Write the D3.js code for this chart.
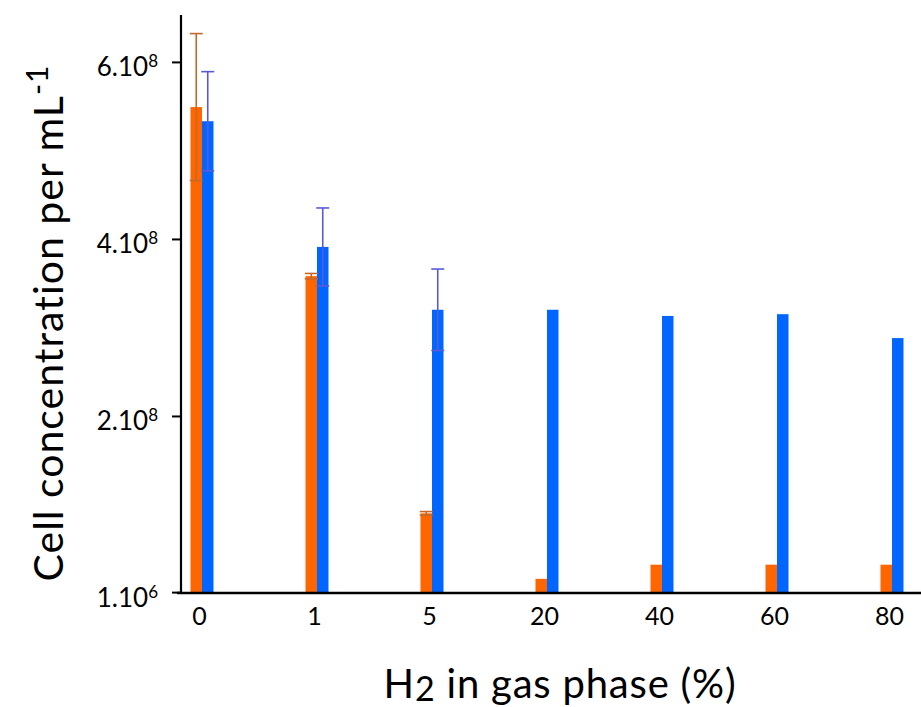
<!DOCTYPE html>
<html><head><meta charset="utf-8">
<script src="https://cdn.jsdelivr.net/npm/d3@7"></script>
<style>body{margin:0;background:#fff}svg{display:block}text{font-family:Lato,"Open Sans",sans-serif;fill:#000}</style>
</head><body><svg id="c" width="921" height="707"></svg>
<script>
const categories = ["0","1","5","20","40","60","80"];
const orangeValues = [5.49e8, 3.58e8, 0.90e8, 0.16e8, 0.32e8, 0.32e8, 0.32e8];
const orangeErrors = [0.83e8, 0.03e8, 0.02e8, null, null, null, null];
const blueValues = [5.33e8, 3.91e8, 3.20e8, 3.20e8, 3.13e8, 3.15e8, 2.88e8];
const blueErrors = [0.56e8, 0.44e8, 0.46e8, null, null, null, null];
const yTickValues = [1e6, 2e8, 4e8, 6e8];
const yTickLabels = [["1.10","6"],["2.10","8"],["4.10","8"],["6.10","8"]];

const svg = d3.select("#c");
const y = d3.scaleLinear().domain([0, 6.53e8]).range([593, 15]);
const x = d3.scalePoint().domain(categories).range([202, 892]);
const bw = 11.5;

const orangeCol = "#ff6600", blueCol = "#0066ff";
const orangeErr = "#c4682c", blueErr = "#5a5ad8";

// bars
svg.append("g").selectAll("rect").data(categories).join("rect")
  .attr("x", d => x(d) - bw).attr("width", bw)
  .attr("y", (d,i) => y(orangeValues[i])).attr("height", (d,i) => y(0) - y(orangeValues[i]))
  .attr("fill", orangeCol);
svg.append("g").selectAll("rect").data(categories).join("rect")
  .attr("x", d => x(d)).attr("width", bw)
  .attr("y", (d,i) => y(blueValues[i])).attr("height", (d,i) => y(0) - y(blueValues[i]))
  .attr("fill", blueCol);

function errBars(vals, errs, off, col) {
  const g = svg.append("g").attr("stroke", col).attr("stroke-width", 1.6);
  categories.forEach((c, i) => {
    if (errs[i] == null) return;
    const cx = x(c) + off;
    const y1 = y(vals[i] + errs[i]), y2 = y(vals[i] - errs[i]);
    g.append("line").attr("x1", cx).attr("x2", cx).attr("y1", y1).attr("y2", y2);
    g.append("line").attr("x1", cx-6.5).attr("x2", cx+6.5).attr("y1", y1).attr("y2", y1);
    g.append("line").attr("x1", cx-6.5).attr("x2", cx+6.5).attr("y1", y2).attr("y2", y2);
  });
}
errBars(orangeValues, orangeErrors, -bw/2, orangeErr);
errBars(blueValues, blueErrors, bw/2, blueErr);

// y axis
const yAxis = d3.axisLeft(y).tickValues(yTickValues).tickSize(9).tickFormat(() => "");
const gy = svg.append("g").attr("transform", "translate(181,0)").call(yAxis);
gy.select(".domain").remove();
gy.selectAll(".tick line").attr("stroke", "#000").attr("stroke-width", 2);
svg.append("line").attr("x1", 181).attr("x2", 181).attr("y1", 15).attr("y2", 593).attr("stroke", "#000").attr("stroke-width", 2.2);
gy.selectAll(".tick").each(function(d, i) {
  const t = d3.select(this).append("text").attr("x", -23).attr("y", 14)
    .attr("text-anchor", "end").style("font-size", "26px");
  t.append("tspan").text(yTickLabels[i][0]);
  t.append("tspan").attr("dy", -9).style("font-size", "17px").text(yTickLabels[i][1]);
});

// x axis
svg.append("line").attr("x1", 177).attr("x2", 921).attr("y1", 593).attr("y2", 593).attr("stroke", "#000").attr("stroke-width", 2.5);
const xAxis = d3.axisBottom(x).tickSize(0);
const gx = svg.append("g").attr("transform", "translate(-3,593)").call(xAxis);
gx.select(".domain").remove();
gx.selectAll(".tick text").attr("y", 32).attr("dy", 0).style("font-size", "25px").attr("fill", "#000");

// titles
const yt = svg.append("text").attr("transform", "translate(63,323) rotate(-90)")
  .attr("text-anchor", "middle").style("font-size", "41px").style("letter-spacing", "1px");
yt.append("tspan").text("Cell concentration per mL");
yt.append("tspan").attr("dy", "-0.5em").style("font-size", "30px").text("-1");

const xt = svg.append("text").attr("x", 560).attr("y", 698).attr("text-anchor", "middle")
  .style("font-size", "40px").style("letter-spacing", "0.8px");
xt.append("tspan").text("H");
xt.append("tspan").attr("dy", 3).style("font-size", "34px").text("2");
xt.append("tspan").attr("dy", -3).text(" in gas phase (%)");
</script></body></html>
